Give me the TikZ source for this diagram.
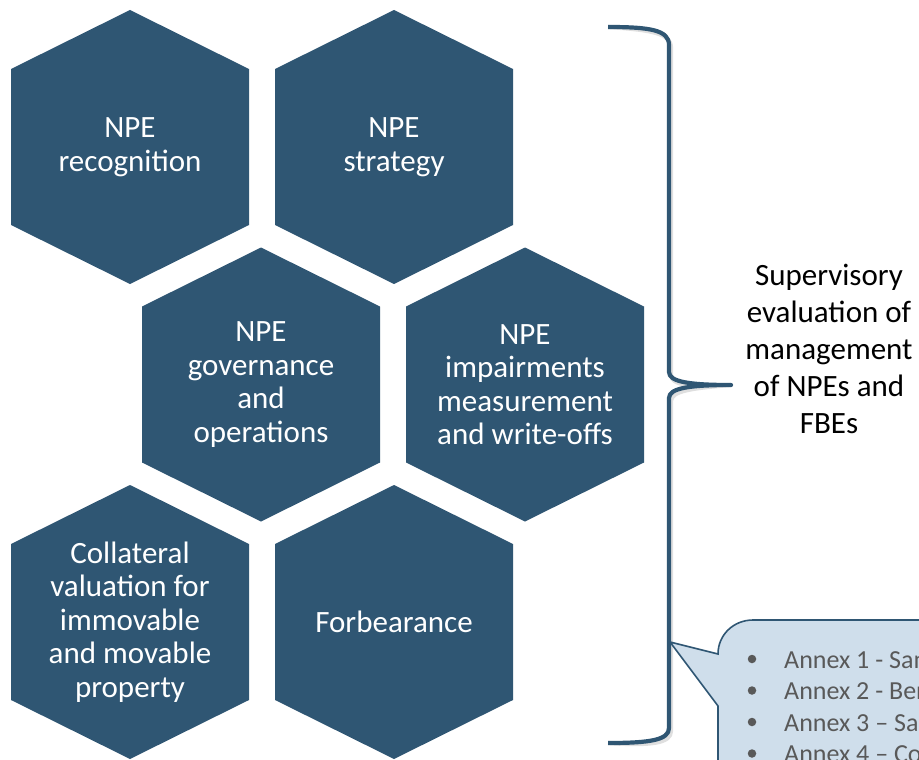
\documentclass[tikz,border=0pt]{standalone}
\usepackage{fontspec}
\setmainfont{Carlito}
\definecolor{hexblue}{RGB}{47,86,115}
\definecolor{bracecol}{RGB}{47,86,115}
\definecolor{callfill}{RGB}{207,222,235}
\definecolor{calltext}{RGB}{89,89,89}
\tikzset{
  hexfill/.style={fill=hexblue},
  hextext/.style={text=white,align=center,font=\fontsize{31}{33.5}\selectfont,inner sep=0pt},
  sidetext/.style={text=black,align=center,font=\fontsize{31}{37}\selectfont,inner sep=0pt},
  annextext/.style={text=calltext,anchor=base west,font=\fontsize{26}{31}\selectfont,inner sep=0pt},
  bulletmark/.style={circle,fill=calltext,inner sep=0pt,minimum size=8.5pt},
  bracestyle/.style={draw=bracecol,line width=4.2pt,line join=round},
}
\newcommand{\hexnode}[4]{%
  \fill[hexfill] (#2,#3) ++(0,-137) -- ++(119,59) -- ++(0,156) -- ++(-119,59) -- ++(-119,-59) -- ++(0,-156) -- cycle;
  \node[hextext] (#1) at (#2,#3) {#4};}
\begin{document}
\begin{tikzpicture}[x=1pt,y=-1pt]
\useasboundingbox (0,0) rectangle (919,760);
\clip (0,0) rectangle (919,760);
% hexagons
\hexnode{rec}{130}{147}{NPE\\recognition}
\hexnode{strat}{394}{147}{NPE\\strategy}
\hexnode{gov}{261}{384.5}{NPE\\governance\\and\\operations}
\hexnode{imp}{525}{384.5}{NPE\\impairments\\measurement\\and write-offs}
\hexnode{coll}{130}{622}{Collateral\\valuation for\\immovable\\and movable\\property}
\hexnode{forb}{394}{622}{Forbearance}
% brace
\coordinate (btop) at (608,27);
\coordinate (btip) at (731,385);
\coordinate (bbot) at (608,743);
\draw[bracestyle,draw=black!25,opacity=0.5,xshift=2pt,yshift=-3pt]
  (btop) .. controls (650,27) and (669,30) .. (669,45) -- (669,372)
  .. controls (669,382) and (690,385) .. (btip)
  .. controls (690,385) and (669,388) .. (669,398) -- (669,728)
  .. controls (669,740) and (650,743) .. (bbot);
\draw[bracestyle]
  (btop) .. controls (650,27) and (669,30) .. (669,45) -- (669,372)
  .. controls (669,382) and (690,385) .. (btip)
  .. controls (690,385) and (669,388) .. (669,398) -- (669,728)
  .. controls (669,740) and (650,743) .. (bbot);
\node[sidetext] (sup) at (829,349) {Supervisory\\evaluation of\\management\\of NPEs and\\FBEs};
% callout
\coordinate (ctip) at (670,642);
\draw[fill=callfill,draw=bracecol,line width=1.6pt,line join=miter]
  (ctip) -- (718,654) .. controls (718,634.7) and (733.7,620) .. (753,620)
  -- (940,620) -- (940,790) -- (718,790) -- (718,706) -- cycle;
\node[bulletmark] (b1) at (752,659) {};
\node[bulletmark] (b2) at (752,690.5) {};
\node[bulletmark] (b3) at (752,722) {};
\node[bulletmark] (b4) at (752,753.5) {};
\node[annextext] (a1) at (784,668) {Annex 1 - Sample};
\node[annextext] (a2) at (784,699.5) {Annex 2 - Bench};
\node[annextext] (a3) at (784,731) {Annex 3 – Sample};
\node[annextext] (a4) at (784,762.5) {Annex 4 – Comp};
\end{tikzpicture}
\end{document}
